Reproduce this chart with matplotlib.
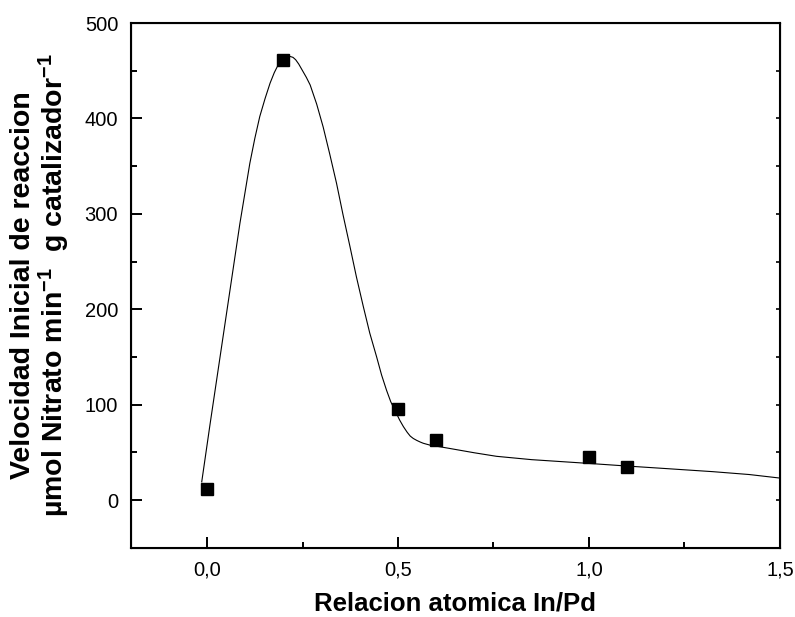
import numpy as np
import matplotlib
matplotlib.use("Agg")
import matplotlib.pyplot as plt
import matplotlib.ticker as mticker

plt.rcParams['font.family'] = ['Liberation Sans', 'DejaVu Sans']
plt.rcParams['mathtext.fontset'] = 'custom'
plt.rcParams['mathtext.rm'] = 'Liberation Sans:bold'
plt.rcParams['mathtext.it'] = 'Liberation Sans:bold'
plt.rcParams['mathtext.bf'] = 'Liberation Sans:bold'

# measured points
ratio_in_pd = [0.0, 0.2, 0.5, 0.6, 1.0, 1.1]
initial_rate = [12, 461, 95, 63, 45, 35]

# fitted curve
curve_x = [-0.014, 0.008, 0.034, 0.06, 0.086, 0.112, 0.125, 0.138, 0.152, 0.165,
           0.176, 0.186, 0.194, 0.2, 0.208, 0.217, 0.225, 0.232, 0.24, 0.25,
           0.26, 0.27, 0.287, 0.304, 0.321, 0.339, 0.356, 0.374, 0.391, 0.409,
           0.426, 0.444, 0.457, 0.47, 0.481,
           0.492, 0.504, 0.514, 0.524, 0.532, 0.54, 0.549, 0.558, 0.566, 0.583,
           0.61, 0.636, 0.7, 0.758, 0.85, 0.998, 1.1, 1.2, 1.325, 1.42, 1.5]
curve_y = [19, 80, 150, 220, 290, 353, 379, 402, 421, 437,
           448, 456, 460, 462.5, 464.5, 465, 464, 461.5, 457, 450,
           443, 435, 415, 391, 363, 332, 299, 266, 234, 203,
           175, 150, 131, 115, 103,
           94, 84, 77, 71, 67, 64.5, 62.5, 60.8, 59.5, 57.6,
           55.8, 54, 49.5, 45.8, 42.3, 38.4, 35.6, 33, 29.7, 26.7, 23]

fig = plt.figure(figsize=(7.95, 6.17), dpi=100)
ax = fig.add_axes([0.1644, 0.1123, 0.8166, 0.8504])

ax.plot(curve_x, curve_y, '-', color='k', linewidth=0.8)
ax.plot(ratio_in_pd, initial_rate, linestyle='none', marker='s',
        markersize=8.5, color='k')

ax.set_xlim(-0.2, 1.5)
ax.set_ylim(-50, 500)

ax.xaxis.set_major_locator(mticker.MultipleLocator(0.5))
ax.xaxis.set_minor_locator(mticker.MultipleLocator(0.25))
ax.yaxis.set_major_locator(mticker.MultipleLocator(100))
ax.yaxis.set_minor_locator(mticker.MultipleLocator(50))
ax.xaxis.set_major_formatter(mticker.FuncFormatter(lambda v, p: ('%.1f' % v).replace('.', ',')))

for s in ax.spines.values():
    s.set_linewidth(1.5)

ax.tick_params(which='both', direction='in', width=1.4, labelsize=14.5, pad=9)
ax.tick_params(which='major', length=8)
ax.tick_params(which='minor', length=4.5)

# short inward ticks on the right spine
axr = ax.twinx()
axr.set_ylim(ax.get_ylim())
axr.yaxis.set_major_locator(mticker.MultipleLocator(50))
axr.tick_params(direction='in', length=3, width=1.2, labelright=False)

ax.set_xlabel('Relacion atomica In/Pd', fontsize=18.5, fontweight='bold', labelpad=9)
ax.set_ylabel('Velocidad Inicial de reaccion\n'
              r'µmol Nitrato min$^{-1}$  g catalizador$^{-1}$',
              fontsize=20.5, fontweight='bold', labelpad=9, linespacing=1.05)

fig.savefig('out.png', dpi=100)
